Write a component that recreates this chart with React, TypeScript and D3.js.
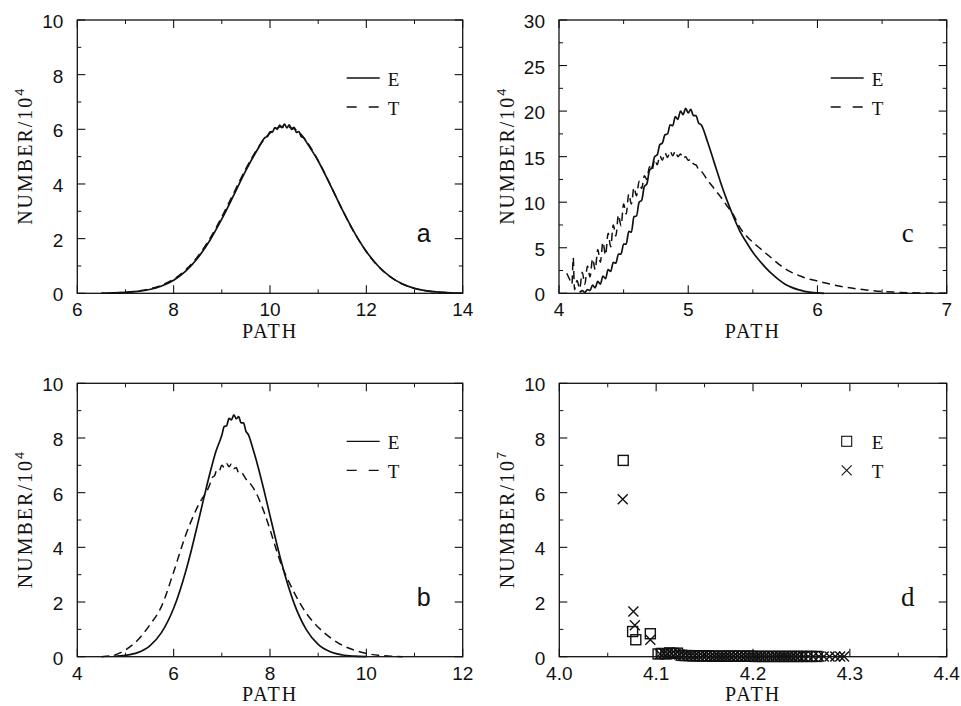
import React from 'react';
import * as d3 from 'd3';

// ---------------- Panel a (PATH 6–14, NUMBER/10^4 0–10) ----------------
const aE: [number, number][] = [
  [6.5, 0.006], [6.75, 0.014], [7, 0.033], [7.25, 0.07], [7.5, 0.14], [7.75, 0.27], [8, 0.48], [8.25, 0.81],
  [8.5, 1.29], [8.75, 1.93], [9, 2.72], [9.25, 3.6], [9.5, 4.5], [9.75, 5.29], [9.9, 5.7], [9.95, 5.74],
  [10, 5.91], [10.05, 5.9], [10.1, 6.06], [10.15, 6.0], [10.2, 6.15], [10.25, 6.06], [10.3, 6.19], [10.35, 6.05],
  [10.4, 6.16], [10.45, 6.0], [10.5, 6.07], [10.55, 5.89], [10.6, 5.92], [10.65, 5.73], [10.7, 5.69], [10.75, 5.55],
  [11, 4.84], [11.25, 3.97], [11.5, 3.06], [11.75, 2.23], [12, 1.53], [12.25, 0.99], [12.5, 0.6], [12.75, 0.34],
  [13, 0.18], [13.25, 0.09], [13.5, 0.045], [13.75, 0.02], [14, 0.008],
];
const aT: [number, number][] = [
  [6.75, 0.02], [7, 0.04], [7.25, 0.08], [7.5, 0.16], [7.75, 0.3], [8, 0.52], [8.25, 0.86], [8.5, 1.35],
  [8.75, 2.0], [9, 2.8], [9.25, 3.68], [9.5, 4.56], [9.75, 5.32], [10, 5.86], [10.25, 6.1], [10.5, 6.02],
  [10.75, 5.58], [11, 4.86], [11.25, 3.98], [11.5, 3.06], [11.75, 2.22], [12, 1.52], [12.25, 0.98], [12.5, 0.6],
  [12.75, 0.34], [13, 0.18], [13.25, 0.09], [13.5, 0.04], [13.75, 0.02],
];
const aXMajor = [6, 8, 10, 12, 14];
const aXMinor = [7, 9, 11, 13];
const aYMajor = [0, 2, 4, 6, 8, 10];
const aYMinor = [1, 3, 5, 7, 9];

// ---------------- Panel b (PATH 4–12, NUMBER/10^4 0–10) ----------------
const bE: [number, number][] = [
  [4.75, 0.016], [5, 0.053], [5.25, 0.15], [5.5, 0.39], [5.75, 0.89], [6, 1.77], [6.25, 3.12], [6.375, 3.95],
  [6.5, 4.86], [6.625, 5.79], [6.75, 6.69], [6.875, 7.5], [7, 8.1], [7.05, 8.42], [7.1, 8.45], [7.15, 8.72],
  [7.2, 8.66], [7.25, 8.85], [7.3, 8.7], [7.35, 8.78], [7.4, 8.55], [7.45, 8.55], [7.5, 8.25], [7.55, 8.12],
  [7.65, 7.58], [7.75, 6.96], [7.875, 6.09], [8, 5.16], [8.125, 4.24], [8.25, 3.37], [8.5, 1.95], [8.75, 1.0],
  [9, 0.45], [9.25, 0.18], [9.5, 0.063], [9.75, 0.02], [10, 0.005],
];
const bT: [number, number][] = [
  [4.5, 0], [4.75, 0.05], [5, 0.25], [5.25, 0.6], [5.5, 1.15], [5.75, 1.85], [6, 3.1], [6.25, 4.45],
  [6.5, 5.5], [6.75, 6.3], [6.8, 6.55], [6.85, 6.62], [6.9, 6.85], [6.95, 6.82], [7, 7.0], [7.05, 6.92],
  [7.1, 7.07], [7.15, 6.95], [7.2, 7.05], [7.25, 6.88], [7.3, 6.92], [7.35, 6.72], [7.4, 6.74], [7.5, 6.5],
  [7.625, 6.25], [7.75, 5.85], [7.875, 5.3], [8, 4.65], [8.125, 3.95], [8.25, 3.3], [8.375, 2.8], [8.5, 2.35],
  [8.75, 1.6], [9, 1.08], [9.25, 0.7], [9.5, 0.42], [9.75, 0.24], [10, 0.12], [10.25, 0.05], [10.5, 0.02],
  [10.75, 0],
];
const bXMajor = [4, 6, 8, 10, 12];
const bXMinor = [5, 7, 9, 11];
const bYMajor = [0, 2, 4, 6, 8, 10];
const bYMinor = [1, 3, 5, 7, 9];

// ---------------- Panel c (PATH 4–7, NUMBER/10^4 0–30) ----------------
const cE: [number, number][] = [
  [4.16, 0.1], [4.18, 0.3], [4.2, 0.1], [4.22, 0.4], [4.24, 0.3], [4.26, 0.9], [4.28, 0.6], [4.3, 1.3],
  [4.32, 1.0], [4.34, 1.9], [4.36, 1.6], [4.38, 2.6], [4.4, 2.4], [4.42, 3.4], [4.44, 3.3], [4.46, 4.3],
  [4.48, 4.3], [4.5, 5.4], [4.52, 5.4], [4.54, 6.8], [4.56, 6.7], [4.58, 8.4], [4.6, 8.5], [4.62, 10.0],
  [4.64, 10.2], [4.66, 11.7], [4.68, 12.0], [4.7, 13.5], [4.72, 13.8], [4.74, 15.0], [4.76, 15.2], [4.78, 16.3],
  [4.8, 16.5], [4.82, 17.4], [4.84, 17.5], [4.86, 18.5], [4.88, 18.4], [4.9, 19.4], [4.92, 19.1], [4.94, 20.0],
  [4.96, 19.6], [4.98, 20.3], [5, 19.8], [5.02, 20.2], [5.04, 19.5], [5.06, 19.5], [5.08, 18.7], [5.1, 18.5],
  [5.15, 16.6], [5.2, 14.4], [5.25, 12.2], [5.3, 10.2], [5.35, 8.4], [5.4, 6.8], [5.45, 5.6], [5.5, 4.5],
  [5.55, 3.6], [5.6, 2.8], [5.65, 2.1], [5.7, 1.5], [5.75, 1.0], [5.8, 0.65], [5.85, 0.4], [5.9, 0.22],
  [5.95, 0.1], [6, 0.04], [6.05, 0],
];
const cT: [number, number][] = [
  [4.06, 2.2], [4.08, 1.6], [4.1, 1.0], [4.11, 3.9], [4.12, 0.4], [4.14, 1.4], [4.16, 0.5], [4.18, 2.3],
  [4.2, 1.0], [4.22, 3.0], [4.24, 1.8], [4.26, 3.8], [4.28, 2.6], [4.3, 4.8], [4.32, 3.4], [4.34, 5.6],
  [4.36, 4.2], [4.38, 6.6], [4.4, 5.1], [4.42, 7.5], [4.44, 6.3], [4.46, 8.6], [4.48, 7.4], [4.5, 9.8],
  [4.52, 8.7], [4.54, 10.9], [4.56, 9.8], [4.58, 11.6], [4.6, 10.7], [4.62, 12.3], [4.64, 11.5], [4.66, 12.9],
  [4.68, 12.5], [4.7, 13.9], [4.72, 13.5], [4.74, 14.7], [4.76, 14.1], [4.78, 15.1], [4.8, 14.6], [4.82, 15.4],
  [4.84, 14.9], [4.86, 15.6], [4.88, 15.1], [4.9, 15.6], [4.92, 15.0], [4.94, 15.3], [4.96, 14.8], [4.98, 15.0],
  [5, 14.6], [5.02, 14.7], [5.04, 14.2], [5.06, 14.1], [5.08, 13.6], [5.1, 13.4], [5.15, 12.4], [5.2, 11.5],
  [5.25, 10.6], [5.3, 9.6], [5.35, 8.6], [5.4, 7.2], [5.45, 6.3], [5.5, 5.6], [5.55, 5.0], [5.6, 4.4],
  [5.65, 3.8], [5.7, 3.2], [5.75, 2.7], [5.8, 2.3], [5.85, 2.0], [5.9, 1.7], [6, 1.35], [6.1, 1.0],
  [6.2, 0.72], [6.3, 0.5], [6.4, 0.33], [6.5, 0.2], [6.6, 0.12], [6.7, 0.06], [6.8, 0.03], [7, 0],
];
const cXMajor = [4, 5, 6, 7];
const cXMinor = [4.5, 5.5, 6.5];
const cYMajor = [0, 5, 10, 15, 20, 25, 30];
const cYMinor = [2.5, 7.5, 12.5, 17.5, 22.5, 27.5];

// ---------------- Panel d (PATH 4.0–4.4, NUMBER/10^7 0–10) ----------------
const dE: [number, number][] = [
  [4.066, 7.18], [4.0757, 0.92], [4.079, 0.62], [4.094, 0.84],
  [4.102, 0.1], [4.106, 0.12], [4.11, 0.1], [4.114, 0.14], [4.118, 0.12], [4.122, 0.13], [4.126, 0.05],
  [4.13, 0.04], [4.134, 0.04], [4.138, 0.03], [4.142, 0.03], [4.146, 0.03], [4.15, 0.03], [4.154, 0.03],
  [4.158, 0.02], [4.162, 0.02], [4.166, 0.02], [4.17, 0.02], [4.174, 0.02], [4.178, 0.02], [4.182, 0.02],
  [4.186, 0.02], [4.19, 0.02], [4.194, 0.02], [4.198, 0.02], [4.202, 0.01], [4.206, 0.01], [4.21, 0.01],
  [4.214, 0.01], [4.218, 0.01], [4.222, 0.01], [4.226, 0.01], [4.23, 0.01], [4.234, 0.01], [4.238, 0.01],
  [4.242, 0.01], [4.246, 0.01], [4.25, 0.01], [4.255, 0.01], [4.26, 0.01], [4.266, 0.01],
];
const dT: [number, number][] = [
  [4.0655, 5.76], [4.0765, 1.65], [4.078, 1.15], [4.094, 0.62],
  [4.104, 0.1], [4.108, 0.13], [4.112, 0.1], [4.116, 0.12], [4.12, 0.1], [4.124, 0.08], [4.128, 0.05],
  [4.132, 0.04], [4.136, 0.04], [4.14, 0.03], [4.144, 0.03], [4.148, 0.03], [4.152, 0.03], [4.156, 0.02],
  [4.16, 0.02], [4.164, 0.02], [4.168, 0.02], [4.172, 0.02], [4.176, 0.02], [4.18, 0.02], [4.184, 0.02],
  [4.188, 0.02], [4.192, 0.02], [4.196, 0.02], [4.2, 0.02], [4.204, 0.01], [4.208, 0.01], [4.212, 0.01],
  [4.216, 0.01], [4.22, 0.01], [4.224, 0.01], [4.228, 0.01], [4.232, 0.01], [4.236, 0.01], [4.24, 0.01],
  [4.244, 0.01], [4.248, 0.01], [4.252, 0.01], [4.257, 0.01], [4.262, 0.01], [4.268, 0.01],
  [4.273, 0.01], [4.279, 0.01], [4.285, 0.01], [4.29, 0.01], [4.294, 0.01],
];
const dXMajor = [4.0, 4.1, 4.2, 4.3, 4.4];
const dXMinor = [4.05, 4.15, 4.25, 4.35];
const dYMajor = [0, 2, 4, 6, 8, 10];
const dYMinor = [1, 3, 5, 7, 9];

const legendLabels = ['E', 'T'];

// ---------------- drawing ----------------
type Box = { left: number; top: number; right: number; bottom: number };
const SANS = '"Liberation Sans", Arial, Helvetica, sans-serif';
const SERIF = '"Liberation Serif", "Times New Roman", Times, serif';
const INK = '#111';

type PanelProps = {
  id: string;
  box: Box;
  xDomain: [number, number];
  yDomain: [number, number];
  xMajor: number[];
  xMinor: number[];
  yMajor: number[];
  yMinor: number[];
  xFmt: (v: number) => string;
  exp: string;
  letter: string;
  letterSerif: boolean;
  lines?: { E: [number, number][]; T: [number, number][] };
  points?: { E: [number, number][]; T: [number, number][] };
};

function Panel(p: PanelProps) {
  const { box } = p;
  const x = d3.scaleLinear().domain(p.xDomain).range([box.left, box.right]);
  const y = d3.scaleLinear().domain(p.yDomain).range([box.bottom, box.top]);
  const line = d3
    .line<[number, number]>()
    .x((d) => x(d[0]))
    .y((d) => y(d[1]))
    .curve(d3.curveMonotoneX);
  const ML = 8;
  const mL = 4;
  const cy = (box.top + box.bottom) / 2;
  const cx = (box.left + box.right) / 2;
  const lgX1 = box.right - 116;
  const lgX2 = box.right - 83;
  const lgTx = box.right - 75;
  const lgY = [box.top + 58, box.top + 87];
  const sq = 10;

  return (
    <g>
      <defs>
        <clipPath id={'clip-' + p.id}>
          <rect x={box.left} y={box.top - 6} width={box.right - box.left} height={box.bottom - box.top + 12} />
        </clipPath>
      </defs>
      {/* frame */}
      <rect
        x={box.left}
        y={box.top}
        width={box.right - box.left}
        height={box.bottom - box.top}
        fill="none"
        stroke={INK}
        strokeWidth={1.3}
      />
      {/* x ticks */}
      {p.xMajor.map((v) => (
        <g key={'xM' + v}>
          <line x1={x(v)} x2={x(v)} y1={box.bottom} y2={box.bottom - ML} stroke={INK} strokeWidth={1.1} />
          <line x1={x(v)} x2={x(v)} y1={box.top} y2={box.top + ML} stroke={INK} strokeWidth={1.1} />
          <text x={x(v)} y={box.bottom + 23} textAnchor="middle" fontFamily={SANS} fontSize={19} fill={INK}>
            {p.xFmt(v)}
          </text>
        </g>
      ))}
      {p.xMinor.map((v) => (
        <g key={'xm' + v}>
          <line x1={x(v)} x2={x(v)} y1={box.bottom} y2={box.bottom - mL} stroke={INK} strokeWidth={1} />
          <line x1={x(v)} x2={x(v)} y1={box.top} y2={box.top + mL} stroke={INK} strokeWidth={1} />
        </g>
      ))}
      {/* y ticks */}
      {p.yMajor.map((v) => (
        <g key={'yM' + v}>
          <line x1={box.left} x2={box.left + ML} y1={y(v)} y2={y(v)} stroke={INK} strokeWidth={1.1} />
          <line x1={box.right} x2={box.right - ML} y1={y(v)} y2={y(v)} stroke={INK} strokeWidth={1.1} />
          <text x={box.left - 14} y={y(v) + 8} textAnchor="end" fontFamily={SANS} fontSize={19} fill={INK}>
            {String(v)}
          </text>
        </g>
      ))}
      {p.yMinor.map((v) => (
        <g key={'ym' + v}>
          <line x1={box.left} x2={box.left + mL} y1={y(v)} y2={y(v)} stroke={INK} strokeWidth={1} />
          <line x1={box.right} x2={box.right - mL} y1={y(v)} y2={y(v)} stroke={INK} strokeWidth={1} />
        </g>
      ))}
      {/* axis titles */}
      <text x={cx} y={box.bottom + 44.5} textAnchor="middle" fontFamily={SERIF} fontSize={20} letterSpacing={2} fill={INK}>
        PATH
      </text>
      <text
        transform={`translate(${box.left - 45},${cy}) rotate(-90)`}
        textAnchor="middle"
        fontFamily={SERIF}
        fontSize={20}
        letterSpacing={2}
        fill={INK}
      >
        NUMBER/10
        <tspan dy={-8} fontSize={13} fontFamily={SANS} letterSpacing={0}>
          {p.exp}
        </tspan>
      </text>
      {/* data */}
      <g clipPath={`url(#clip-${p.id})`}>
        {p.lines && (
          <>
            <path d={line(p.lines.E) || ''} fill="none" stroke={INK} strokeWidth={1.7} strokeLinejoin="round" />
            <path d={line(p.lines.T) || ''} fill="none" stroke={INK} strokeWidth={1.5} strokeDasharray="8,5" />
          </>
        )}
      </g>
      {p.points && (
        <g fill="none" stroke={INK} strokeWidth={1.4}>
          {p.points.E.map((d, i) => (
            <rect key={'pe' + i} x={x(d[0]) - sq / 2} y={y(d[1]) - sq / 2} width={sq} height={sq} />
          ))}
          {p.points.T.map((d, i) => (
            <path
              key={'pt' + i}
              d={`M${x(d[0]) - 5},${y(d[1]) - 5}L${x(d[0]) + 5},${y(d[1]) + 5}M${x(d[0]) - 5},${y(d[1]) + 5}L${x(d[0]) + 5},${y(d[1]) - 5}`}
            />
          ))}
        </g>
      )}
      {/* legend */}
      {p.lines && (
        <g>
          <line x1={lgX1} x2={lgX2} y1={lgY[0]} y2={lgY[0]} stroke={INK} strokeWidth={1.3} />
          <line x1={lgX1} x2={lgX2} y1={lgY[1]} y2={lgY[1]} stroke={INK} strokeWidth={1.3} strokeDasharray="10,12" />
        </g>
      )}
      {p.points && (
        <g fill="none" stroke={INK} strokeWidth={1.1}>
          <rect x={box.right - 100 - 5} y={lgY[0] - 5} width={10} height={10} />
          <path
            d={`M${box.right - 105},${lgY[1] - 5}L${box.right - 95},${lgY[1] + 5}M${box.right - 105},${lgY[1] + 5}L${box.right - 95},${lgY[1] - 5}`}
          />
        </g>
      )}
      {legendLabels.map((t, i) => (
        <text key={t} x={lgTx} y={lgY[i] + 8} fontFamily={SERIF} fontSize={19} fill={INK}>
          {t}
        </text>
      ))}
      {/* panel letter */}
      <text
        x={box.right - 39}
        y={box.bottom - 51}
        textAnchor="middle"
        fontFamily={p.letterSerif ? SERIF : SANS}
        fontSize={p.letterSerif ? 27 : 25}
        fill={INK}
      >
        {p.letter}
      </text>
    </g>
  );
}

export default function App() {
  const f0 = (v: number) => String(v);
  const f1 = d3.format('.1f');
  return (
    <svg
      width={961}
      height={706}
      viewBox="0 0 961 706"
      style={{ position: 'absolute', left: 0, top: 0, background: '#fff' }}
    >
      <rect x={0} y={0} width={961} height={706} fill="#fff" />
      <Panel
        id="a"
        box={{ left: 77.3, top: 20, right: 462.7, bottom: 293.3 }}
        xDomain={[6, 14]}
        yDomain={[0, 10]}
        xMajor={aXMajor}
        xMinor={aXMinor}
        yMajor={aYMajor}
        yMinor={aYMinor}
        xFmt={f0}
        exp="4"
        letter="a"
        letterSerif={false}
        lines={{ E: aE, T: aT }}
      />
      <Panel
        id="c"
        box={{ left: 559, top: 20, right: 946.7, bottom: 293.3 }}
        xDomain={[4, 7]}
        yDomain={[0, 30]}
        xMajor={cXMajor}
        xMinor={cXMinor}
        yMajor={cYMajor}
        yMinor={cYMinor}
        xFmt={f0}
        exp="4"
        letter="c"
        letterSerif={true}
        lines={{ E: cE, T: cT }}
      />
      <Panel
        id="b"
        box={{ left: 77.3, top: 383.3, right: 462.7, bottom: 656.7 }}
        xDomain={[4, 12]}
        yDomain={[0, 10]}
        xMajor={bXMajor}
        xMinor={bXMinor}
        yMajor={bYMajor}
        yMinor={bYMinor}
        xFmt={f0}
        exp="4"
        letter="b"
        letterSerif={false}
        lines={{ E: bE, T: bT }}
      />
      <Panel
        id="d"
        box={{ left: 559.3, top: 383.3, right: 946.7, bottom: 656.7 }}
        xDomain={[4.0, 4.4]}
        yDomain={[0, 10]}
        xMajor={dXMajor}
        xMinor={dXMinor}
        yMajor={dYMajor}
        yMinor={dYMinor}
        xFmt={(v) => f1(v)}
        exp="7"
        letter="d"
        letterSerif={true}
        points={{ E: dE, T: dT }}
      />
    </svg>
  );
}
